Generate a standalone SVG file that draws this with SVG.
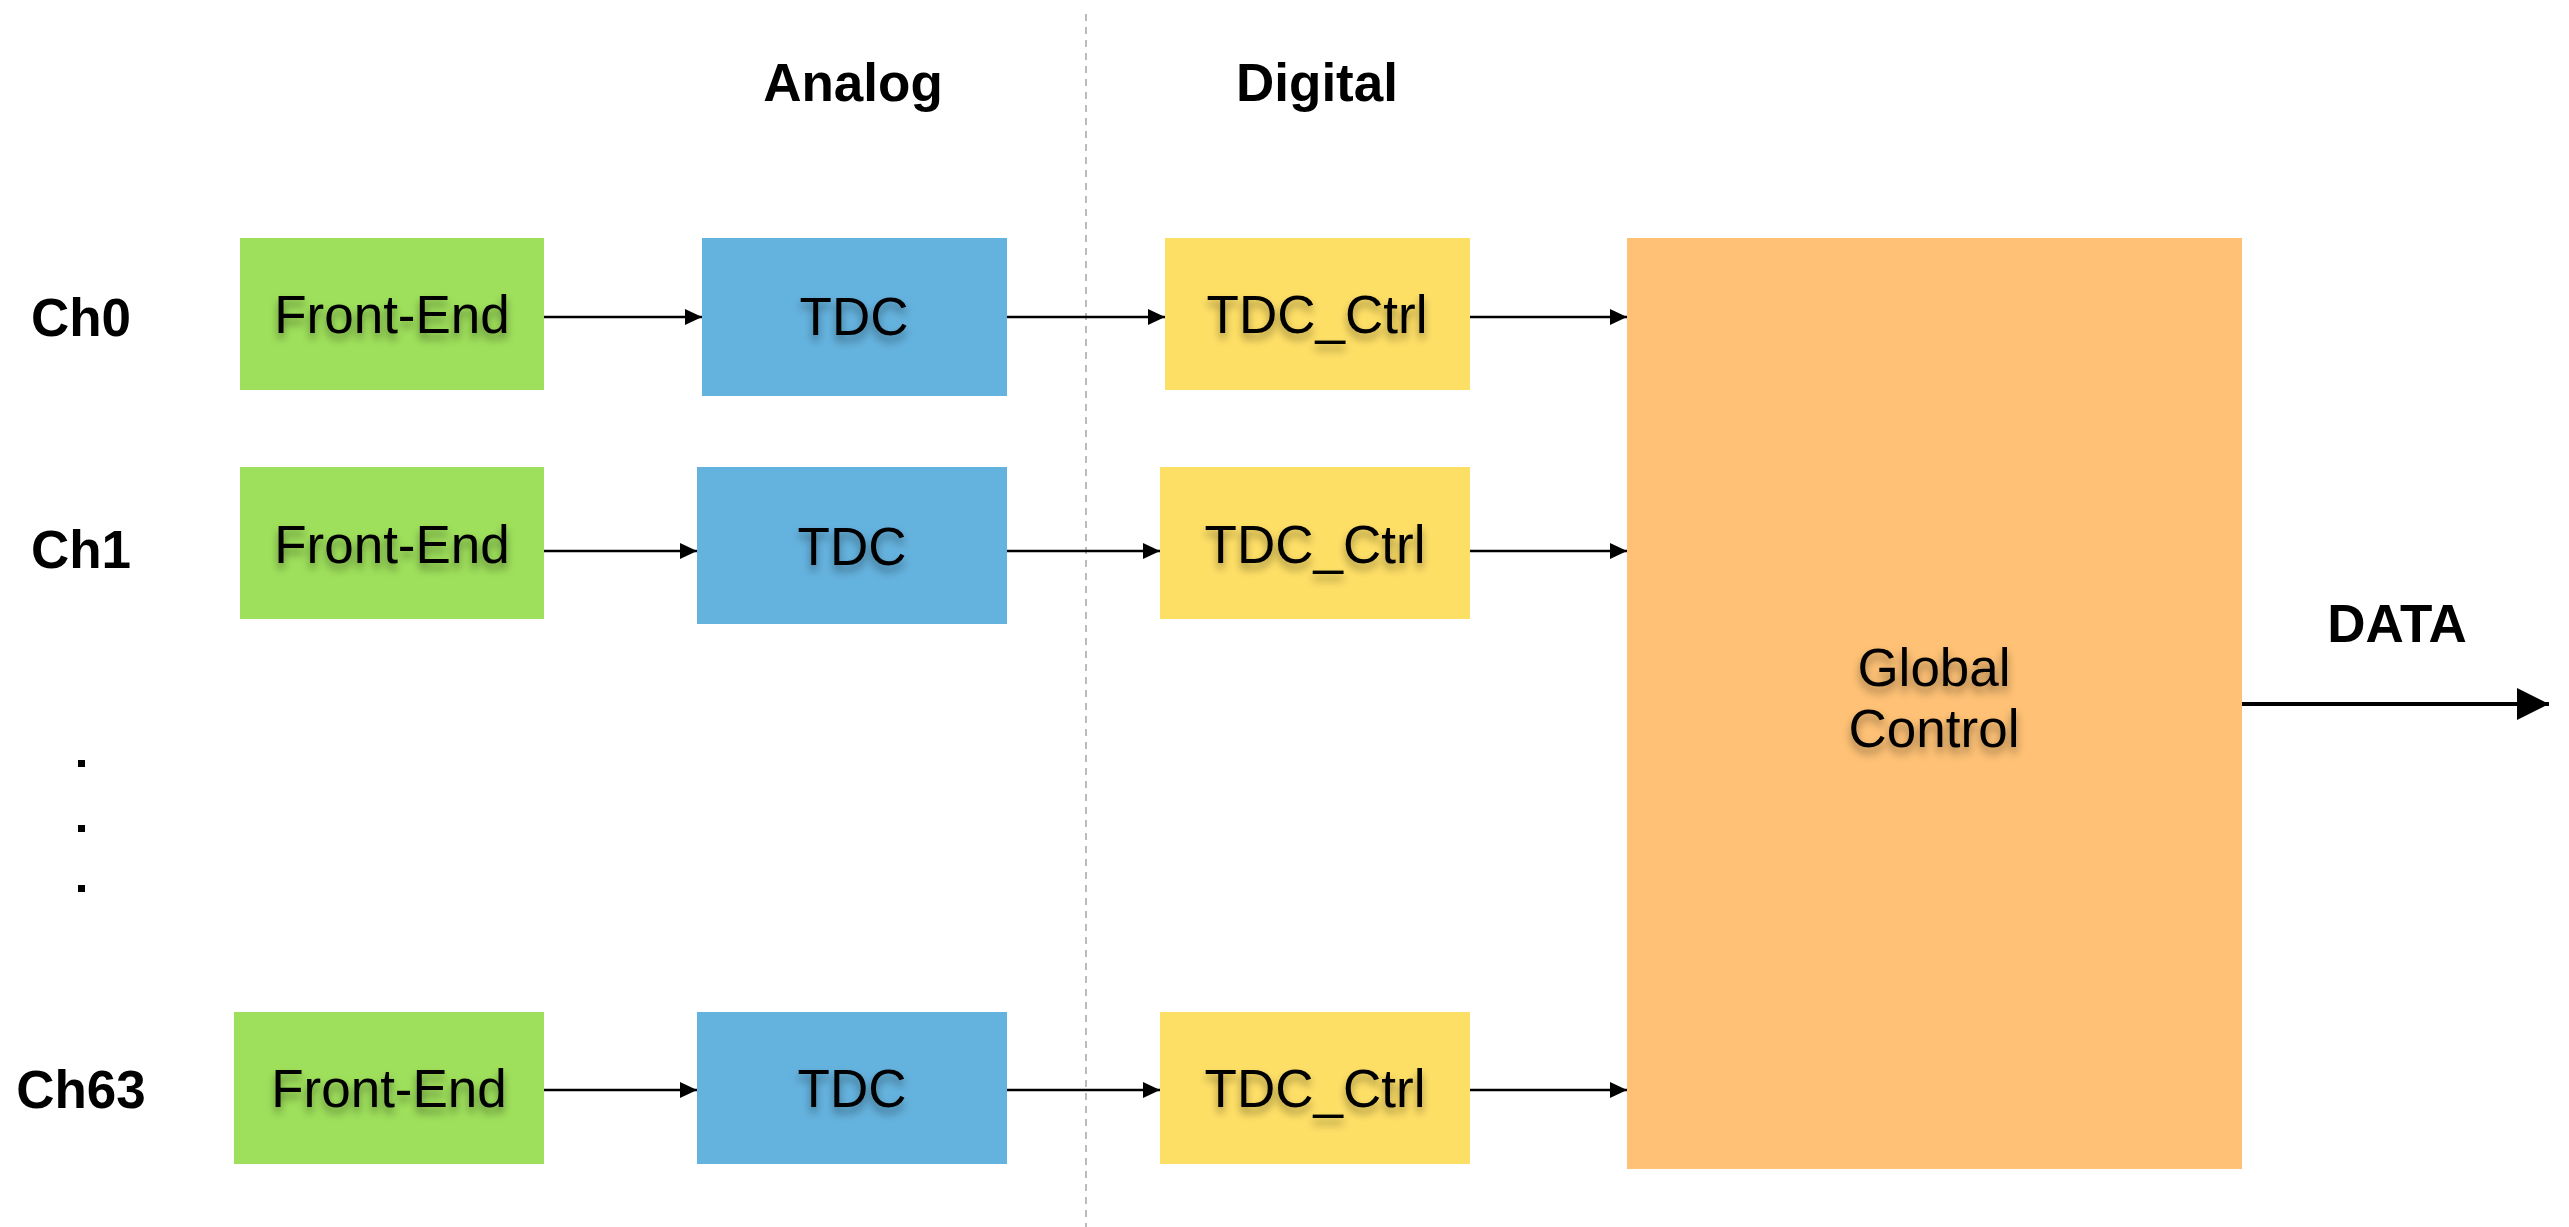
<svg xmlns="http://www.w3.org/2000/svg" width="2569" height="1227" viewBox="0 0 2569 1227">
<style>
.lbl{font-family:"Liberation Sans",Arial,Helvetica,sans-serif;font-weight:bold;font-size:53px;fill:#000;text-anchor:middle}
.box{font-family:"Liberation Sans",Arial,Helvetica,sans-serif;font-size:53px;fill:#000;text-anchor:middle;filter:url(#ts)}
.fe{fill:#9EE05B}
.tdc{fill:#64B2DE}
.ctrl{fill:#FEDF66}
.glob{fill:#FEC175}
.conn{stroke:#000;stroke-width:2.5;fill:none;marker-end:url(#ah)}
</style>
<defs>
<filter id="ts" x="-20%" y="-40%" width="140%" height="200%">
<feDropShadow dx="0" dy="6" stdDeviation="4" flood-color="#000" flood-opacity="0.4"/>
</filter>
<marker id="ah" markerUnits="userSpaceOnUse" markerWidth="18" markerHeight="16" refX="17" refY="8" orient="auto">
<path d="M0,0 L17,8 L0,16 Z" fill="#000"/>
</marker>
<marker id="ahb" markerUnits="userSpaceOnUse" markerWidth="33" markerHeight="33" refX="32" refY="16" orient="auto">
<path d="M0,0 L32,16 L0,32 Z" fill="#000"/>
</marker>
</defs>
<rect width="2569" height="1227" fill="#fff"/>
<line x1="1086" y1="14" x2="1086" y2="1227" stroke="#bbb" stroke-width="2" stroke-dasharray="7 6"/>
<text class="lbl" x="853" y="101">Analog</text>
<text class="lbl" x="1317" y="101">Digital</text>
<text class="lbl" x="81" y="336">Ch0</text>
<text class="lbl" x="81" y="568">Ch1</text>
<text class="lbl" x="81" y="1108">Ch63</text>
<rect x="78" y="760" width="7" height="7" fill="#000"/>
<rect x="78" y="825" width="7" height="7" fill="#000"/>
<rect x="78" y="885" width="7" height="7" fill="#000"/>
<g id="fe0"><rect class="fe" x="240" y="238" width="304" height="152"/><text class="box" x="392" y="333">Front-End</text></g>
<g id="tdc0"><rect class="tdc" x="702" y="238" width="305" height="158"/><text class="box" x="854" y="335">TDC</text></g>
<g id="ctrl0"><rect class="ctrl" x="1165" y="238" width="305" height="152"/><text class="box" x="1317" y="333">TDC_Ctrl</text></g>
<g id="fe1"><rect class="fe" x="240" y="467" width="304" height="152"/><text class="box" x="392" y="563">Front-End</text></g>
<g id="tdc1"><rect class="tdc" x="697" y="467" width="310" height="157"/><text class="box" x="852" y="565">TDC</text></g>
<g id="ctrl1"><rect class="ctrl" x="1160" y="467" width="310" height="152"/><text class="box" x="1315" y="563">TDC_Ctrl</text></g>
<g id="fe63"><rect class="fe" x="234" y="1012" width="310" height="152"/><text class="box" x="389" y="1107">Front-End</text></g>
<g id="tdc63"><rect class="tdc" x="697" y="1012" width="310" height="152"/><text class="box" x="852" y="1107">TDC</text></g>
<g id="ctrl63"><rect class="ctrl" x="1160" y="1012" width="310" height="152"/><text class="box" x="1315" y="1107">TDC_Ctrl</text></g>
<g id="global"><rect class="glob" x="1627" y="238" width="615" height="931"/><text class="box" x="1934" y="686">Global</text><text class="box" x="1934" y="747">Control</text></g>
<text class="lbl" x="2397" y="642">DATA</text>
<g id="connectors">
<line class="conn" x1="544" y1="317" x2="702" y2="317"/>
<line class="conn" x1="1007" y1="317" x2="1165" y2="317"/>
<line class="conn" x1="1470" y1="317" x2="1627" y2="317"/>
<line class="conn" x1="544" y1="551" x2="697" y2="551"/>
<line class="conn" x1="1007" y1="551" x2="1160" y2="551"/>
<line class="conn" x1="1470" y1="551" x2="1627" y2="551"/>
<line class="conn" x1="544" y1="1090" x2="697" y2="1090"/>
<line class="conn" x1="1007" y1="1090" x2="1160" y2="1090"/>
<line class="conn" x1="1470" y1="1090" x2="1627" y2="1090"/>
<line x1="2242" y1="704" x2="2549" y2="704" stroke="#000" stroke-width="4" marker-end="url(#ahb)"/>
</g>
</svg>
